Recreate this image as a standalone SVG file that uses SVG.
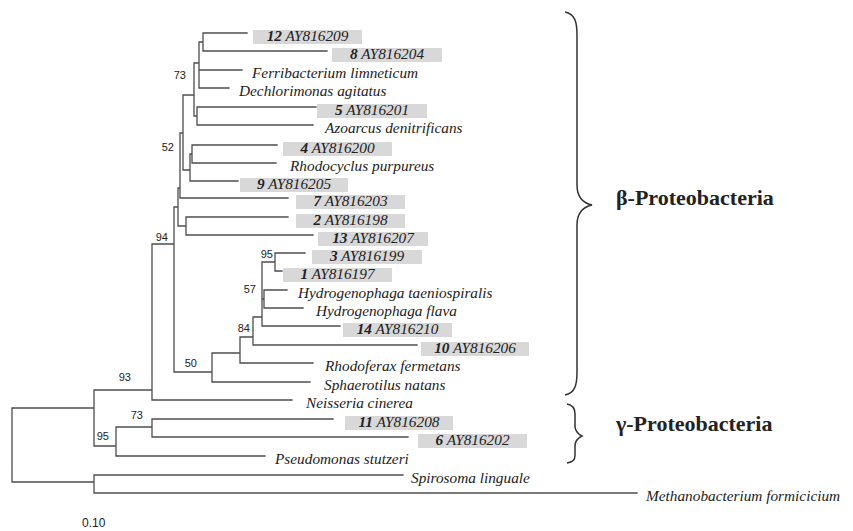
<svg xmlns="http://www.w3.org/2000/svg" width="853" height="531" viewBox="0 0 853 531">
<style>
.br{fill:none;stroke:#4d4d4d;stroke-width:1.3;stroke-linecap:square}
.brace{fill:none;stroke:#333;stroke-width:1.5}
.lf{font-family:"Liberation Serif","Times New Roman",serif;font-style:italic;font-size:15.3px;fill:#222}
.num{font-weight:bold}
.box{fill:#d8d8d8}
.bs{font-family:"Liberation Sans",Arial,sans-serif;font-size:11px;fill:#222;text-anchor:end}
.cl{font-family:"Liberation Serif","Times New Roman",serif;font-weight:bold;font-size:22px;fill:#222}
</style>
<rect width="853" height="531" fill="#fff"/>
<g id="connectors">
<path class="br" d="M203,33H247M203,51H327M203,33V51M199,42H203M199,70H242M199,88H229M199,42V88M194,63H199M197,107H316M197,125H313M197,107V125M194,116H197M194,63V116M183,95H194M192,145H277M192,163H276M192,145V163M190,154H192M190,181H238M190,154V181M183,170H190M183,95V170M180,133H183M180,198H288M180,133V198M178,188H180M186,217H288M186,235H313M186,217V235M178,226H186M178,188V226M174,207H178M174,207V372M152,244H174M174,372H212M212,353V382M212,382H310M212,353H240M240,337V363M240,363H313M240,337H253M253,317V345M253,345H417M253,317H262M262,262V326M262,326H340M262,262H275M275,253V271M275,253H305M275,271H282M262,299H264M264,290V308M264,290H287M264,308H303M152,244V400M152,400H292M94,390H152M94,390V446M94,446H116M116,427V456M116,456H265M116,427H152M152,419V437M152,419H333M152,437H408M12,408V482M12,408H94M12,482H94M94,475V493M94,475H403M94,493H637"/>
</g>
<g id="support">
<text class="bs" x="186" y="79">73</text>
<text class="bs" x="174" y="151">52</text>
<text class="bs" x="168" y="241">94</text>
<text class="bs" x="273" y="258">95</text>
<text class="bs" x="256" y="293">57</text>
<text class="bs" x="250" y="332">84</text>
<text class="bs" x="197" y="367">50</text>
<text class="bs" x="131" y="381">93</text>
<text class="bs" x="143" y="419">73</text>
<text class="bs" x="109" y="440">95</text>
</g>
<g id="leaf-12"><rect class="box" x="253" y="30" width="109" height="14"/><text class="lf" x="307.5" y="41" text-anchor="middle"><tspan class="num">12</tspan> AY816209</text></g>
<g id="leaf-8"><rect class="box" x="332" y="48" width="110" height="14"/><text class="lf" x="387" y="59" text-anchor="middle"><tspan class="num">8</tspan> AY816204</text></g>
<g id="leaf-ferribacterium"><text class="lf" x="252" y="78">Ferribacterium limneticum</text></g>
<g id="leaf-dechlorimonas"><text class="lf" x="239" y="96">Dechlorimonas agitatus</text></g>
<g id="leaf-5"><rect class="box" x="317" y="104" width="110" height="14"/><text class="lf" x="372" y="115" text-anchor="middle"><tspan class="num">5</tspan> AY816201</text></g>
<g id="leaf-azoarcus"><text class="lf" x="325" y="133">Azoarcus denitrificans</text></g>
<g id="leaf-4"><rect class="box" x="283" y="142" width="109" height="14"/><text class="lf" x="337.5" y="153" text-anchor="middle"><tspan class="num">4</tspan> AY816200</text></g>
<g id="leaf-rhodocyclus"><text class="lf" x="290" y="171">Rhodocyclus purpureus</text></g>
<g id="leaf-9"><rect class="box" x="240" y="178" width="108" height="14"/><text class="lf" x="294" y="189" text-anchor="middle"><tspan class="num">9</tspan> AY816205</text></g>
<g id="leaf-7"><rect class="box" x="296" y="195" width="109" height="14"/><text class="lf" x="350.5" y="206" text-anchor="middle"><tspan class="num">7</tspan> AY816203</text></g>
<g id="leaf-2"><rect class="box" x="296" y="214" width="109" height="14"/><text class="lf" x="350.5" y="225" text-anchor="middle"><tspan class="num">2</tspan> AY816198</text></g>
<g id="leaf-13"><rect class="box" x="318" y="232" width="110" height="14"/><text class="lf" x="373" y="243" text-anchor="middle"><tspan class="num">13</tspan> AY816207</text></g>
<g id="leaf-3"><rect class="box" x="312" y="250" width="110" height="14"/><text class="lf" x="367" y="261" text-anchor="middle"><tspan class="num">3</tspan> AY816199</text></g>
<g id="leaf-1"><rect class="box" x="283" y="268" width="109" height="14"/><text class="lf" x="337.5" y="279" text-anchor="middle"><tspan class="num">1</tspan> AY816197</text></g>
<g id="leaf-h-taeniospiralis"><text class="lf" x="298" y="298">Hydrogenophaga taeniospiralis</text></g>
<g id="leaf-h-flava"><text class="lf" x="316" y="316">Hydrogenophaga flava</text></g>
<g id="leaf-14"><rect class="box" x="343" y="323" width="109" height="14"/><text class="lf" x="397.5" y="334" text-anchor="middle"><tspan class="num">14</tspan> AY816210</text></g>
<g id="leaf-10"><rect class="box" x="421" y="342" width="108" height="14"/><text class="lf" x="475" y="353" text-anchor="middle"><tspan class="num">10</tspan> AY816206</text></g>
<g id="leaf-rhodoferax"><text class="lf" x="325" y="371">Rhodoferax fermetans</text></g>
<g id="leaf-sphaerotilus"><text class="lf" x="324" y="390">Sphaerotilus natans</text></g>
<g id="leaf-neisseria"><text class="lf" x="306" y="408">Neisseria cinerea</text></g>
<g id="leaf-11"><rect class="box" x="345" y="416" width="108" height="14"/><text class="lf" x="399" y="427" text-anchor="middle"><tspan class="num">11</tspan> AY816208</text></g>
<g id="leaf-6"><rect class="box" x="418" y="434" width="109" height="14"/><text class="lf" x="472.5" y="445" text-anchor="middle"><tspan class="num">6</tspan> AY816202</text></g>
<g id="leaf-pseudomonas"><text class="lf" x="275" y="464">Pseudomonas stutzeri</text></g>
<g id="leaf-spirosoma"><text class="lf" x="411" y="483">Spirosoma linguale</text></g>
<g id="leaf-methanobacterium"><text class="lf" x="646" y="501">Methanobacterium formicicium</text></g>
<g id="clade-beta">
<path class="brace" d="M565,12C575,14 577,22 577,35V185C577,198 583,203 592,205C583,207 577,212 577,225V372C577,385 575,393 565,395"/>
<text class="cl" x="616" y="205">β-Proteobacteria</text>
</g>
<g id="clade-gamma">
<path class="brace" d="M567,404C573,405 575,409 575,414V426C575,431 578,434 582,436C578,438 575,441 575,446V455C575,460 573,462 567,463"/>
<text class="cl" x="616" y="431">γ-Proteobacteria</text>
</g>
<g id="scale"><text font-family="Liberation Sans, Arial, sans-serif" font-size="12" fill="#222" x="82" y="527">0.10</text></g>
</svg>
